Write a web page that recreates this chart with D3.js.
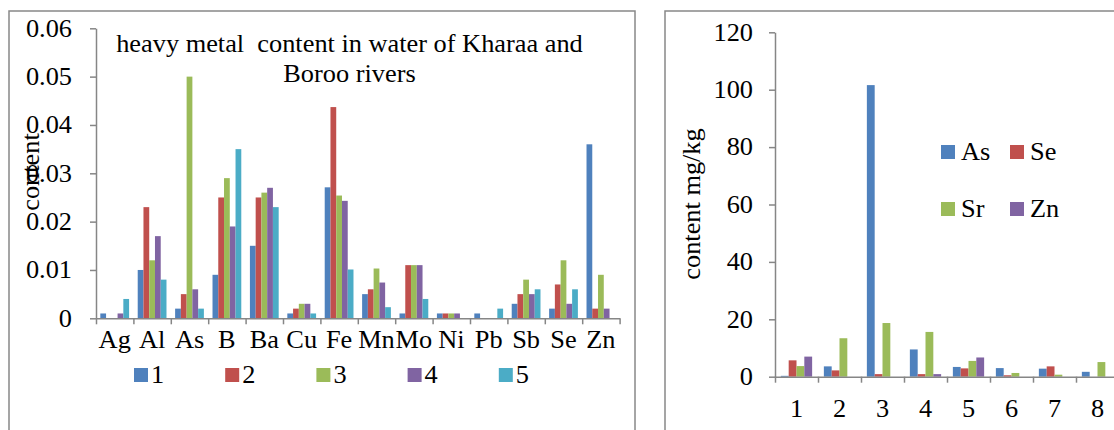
<!DOCTYPE html>
<html>
<head>
<meta charset="utf-8">
<script src="https://cdn.jsdelivr.net/npm/d3@7/dist/d3.min.js"></script>
<style>
	body { margin: 0; background: #fff; }
	svg text { font-family: 'Liberation Serif', 'Times New Roman', serif; fill: #000; }
</style>
</head>
<body>
<div id="chart"></div>
<script>
// left chart: metals in water
var metals = ['Ag','Al','As','B','Ba','Cu','Fe','Mn','Mo','Ni','Pb','Sb','Se','Zn'];
var waterSeries = ['1','2','3','4','5'];
var water1 = [0.001,0.010,0.002,0.009,0.015,0.001,0.0271,0.005,0.001,0.001,0.001,0.003,0.002,0.036];
var water2 = [0,0.023,0.005,0.025,0.025,0.002,0.0437,0.006,0.011,0.001,0,0.005,0.007,0.002];
var water3 = [0,0.012,0.050,0.029,0.026,0.003,0.0254,0.0103,0.011,0.001,0,0.008,0.012,0.009];
var water4 = [0.001,0.017,0.006,0.019,0.027,0.003,0.0243,0.0074,0.011,0.001,0,0.005,0.003,0.002];
var water5 = [0.004,0.008,0.002,0.035,0.023,0.001,0.0101,0.0023,0.004,0,0.002,0.006,0.006,0];
var waterTicks = [0,0.01,0.02,0.03,0.04,0.05,0.06];
var waterTitle = ['heavy metal  content in water of Kharaa and', 'Boroo rivers'];

// right chart: soil samples
var sites = ['1','2','3','4','5','6','7','8'];
var soilSeries = ['As','Se','Sr','Zn'];
var soilAs = [0.3,3.6,101.6,9.5,3.4,3.0,2.8,1.7];
var soilSe = [5.7,2.2,0.9,0.9,2.9,0.5,3.6,0];
var soilSr = [3.7,13.4,18.7,15.6,5.5,1.3,0.7,5.1];
var soilZn = [7.0,0,0,0.9,6.7,0,0,0];
var soilTicks = [0,20,40,60,80,100,120];

var colors = ['#4F81BD','#C0504D','#9BBB59','#8064A2','#4BACC6'];
var axisColor = '#868686';
var fontSize = 24.5;
var stretch = 1.075; // the source picture is a bit wider than tall
var serif = "'Liberation Serif', 'Times New Roman', serif";

var svg = d3.select('#chart')
	.append('svg')
	.attr('width', 1114)
	.attr('height', 430)
	.attr('font-family', serif);

// chart frames
svg.append('rect')
	.attr('x', 9).attr('y', 11).attr('width', 626).attr('height', 460)
	.attr('fill', 'none').attr('stroke', '#888').attr('stroke-width', 1.5);
svg.append('rect')
	.attr('x', 665).attr('y', 11).attr('width', 520).attr('height', 460)
	.attr('fill', 'none').attr('stroke', '#888').attr('stroke-width', 1.5);

function styleAxis(g) {
	g.attr('font-family', serif).attr('font-size', fontSize);
	g.selectAll('path, line').attr('stroke', axisColor).attr('stroke-width', 1.5);
	g.selectAll('text').attr('font-size', fontSize).attr('font-family', serif);
}

function barChart(opts) {
	var g = svg.append('g');
	var x0 = d3.scaleBand()
		.domain(opts.categories)
		.range([opts.left, opts.left + opts.step * opts.categories.length])
		.paddingInner(0).paddingOuter(0);
	var x1 = d3.scaleBand()
		.domain(opts.seriesNames)
		.range([0, x0.bandwidth()])
		.paddingInner(0).paddingOuter(0.75);
	var y = d3.scaleLinear()
		.domain([opts.ticks[0], opts.ticks[opts.ticks.length - 1]])
		.range([opts.bottom, opts.top]);

	// bars
	opts.series.forEach(function(values, s) {
		g.append('g')
			.selectAll('rect')
			.data(values)
			.enter()
			.append('rect')
				.attr('x', function(d, i) { return x0(opts.categories[i]) + x1(opts.seriesNames[s]); })
				.attr('y', function(d) { return y(d); })
				.attr('width', x1.bandwidth())
				.attr('height', function(d) { return opts.bottom - y(d); })
				.attr('fill', colors[s]);
	});

	// y axis
	var yAxis = g.append('g')
		.attr('transform', 'translate(' + opts.left + ',0)')
		.call(d3.axisLeft(y).tickValues(opts.ticks).tickFormat(opts.format)
			.tickSize(6).tickSizeOuter(0).tickPadding(opts.yPad));
	styleAxis(yAxis);

	// x axis line with ticks on the category borders
	var xb = d3.scaleLinear()
		.domain([0, opts.categories.length])
		.range(x0.range());
	var xAxis = g.append('g')
		.attr('transform', 'translate(0,' + opts.bottom + ')')
		.call(d3.axisBottom(xb).ticks(opts.categories.length).tickFormat('')
			.tickSize(6).tickSizeOuter(0));
	styleAxis(xAxis);

	// category labels
	var labels = g.append('g')
		.attr('transform', 'translate(0,' + opts.bottom + ')')
		.call(d3.axisBottom(x0).tickSize(0).tickSizeOuter(0));
	labels.select('.domain').remove();
	styleAxis(labels);
	labels.selectAll('text').attr('dy', null).attr('y', opts.labelY);

	return { x0: x0, y: y };
}

var left = barChart({
	categories: metals,
	seriesNames: waterSeries,
	series: [water1, water2, water3, water4, water5],
	ticks: waterTicks,
	format: function(d) { return d === 0 ? '0' : d3.format('.2f')(d); },
	left: 96, step: 37.4, top: 28.3, bottom: 318.3,
	yPad: 18, labelY: 30
});

var right = barChart({
	categories: sites,
	seriesNames: soilSeries,
	series: [soilAs, soilSe, soilSr, soilZn],
	ticks: soilTicks,
	format: d3.format('d'),
	left: 775, step: 43, top: 32.3, bottom: 376.7,
	yPad: 16, labelY: 40
});

// title of the left chart
svg.append('g')
	.selectAll('text')
	.data(waterTitle)
	.enter()
	.append('text')
		.text(function(d) { return d; })
		.attr('x', 349.5)
		.attr('y', function(d, i) { return 51.7 + i * 30; })
		.attr('text-anchor', 'middle')
		.attr('font-size', fontSize)
		.style('white-space', 'pre');

// axis titles
svg.append('text')
	.text('content')
	.attr('transform', 'translate(39,172) rotate(-90)')
	.attr('text-anchor', 'middle')
	.attr('font-size', fontSize);
svg.append('text')
	.text('content mg/kg')
	.attr('transform', 'translate(700,204) rotate(-90)')
	.attr('text-anchor', 'middle')
	.attr('font-size', fontSize);

// legend of the left chart
var legL = svg.append('g')
	.selectAll('g')
	.data(waterSeries)
	.enter()
	.append('g')
		.attr('transform', function(d, i) { return 'translate(' + (134 + i * 91.2) + ',368)'; });
legL.append('rect')
	.attr('width', 14).attr('height', 14)
	.attr('fill', function(d, i) { return colors[i]; });
legL.append('text')
	.text(function(d) { return d; })
	.attr('x', 17).attr('y', 15)
	.attr('font-size', fontSize);

// legend of the right chart
var legR = svg.append('g')
	.selectAll('g')
	.data(soilSeries)
	.enter()
	.append('g')
		.attr('transform', function(d, i) { return 'translate(' + (941 + (i % 2) * 69) + ',' + (145 + Math.floor(i / 2) * 57) + ')'; });
legR.append('rect')
	.attr('width', 14).attr('height', 14)
	.attr('fill', function(d, i) { return colors[i]; });
legR.append('text')
	.text(function(d) { return d; })
	.attr('x', 20).attr('y', 15)
	.attr('font-size', fontSize);

// widen the glyphs a little, like the stretched original
svg.selectAll('text').each(function() {
	var t = d3.select(this);
	var len = this.getComputedTextLength();
	if (len > 0) {
		t.attr('textLength', len * stretch).attr('lengthAdjust', 'spacingAndGlyphs');
	}
});
</script>
</body>
</html>
